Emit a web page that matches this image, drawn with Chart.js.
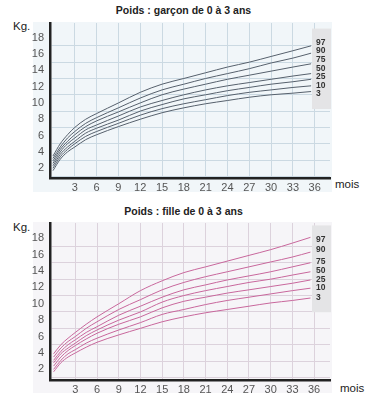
<!DOCTYPE html>
<html>
<head>
<meta charset="utf-8">
<script src="https://cdn.jsdelivr.net/npm/chart.js@4.4.1/dist/chart.umd.min.js"></script>
<style>
  body { margin: 0; background: #fff; font-family: "Liberation Sans", Arial, sans-serif; }
  .panel { position: absolute; }
  .title { position: absolute; left: 0; width: 367px; text-align: center; font-weight: bold; font-size: 10.5px; line-height: 12px; color: #222; }
  .unit { position: absolute; font-size: 11.5px; line-height: 12px; color: #222; }
  canvas { position: absolute; left: 0; }
</style>
</head>
<body>
<div class="panel" style="left:33px;top:22px;width:299px;height:170px;background:#f1f6f9"></div>
<div class="panel" style="left:33px;top:222px;width:299px;height:171px;background:#f6f5f8"></div>
<div class="title" style="top:4px">Poids : garçon de 0 à 3 ans</div>
<div class="unit" style="left:13px;top:20px">Kg.</div>
<div class="unit" style="left:335px;top:178px">mois</div>
<div class="title" style="top:205px">Poids : fille de 0 à 3 ans</div>
<div class="unit" style="left:13px;top:221px">Kg.</div>
<div class="unit" style="left:340px;top:382px">mois</div>
<canvas id="boy" width="385" height="200" style="top:0"></canvas>
<canvas id="girl" width="385" height="200" style="top:200px"></canvas>
<script>
// months on x axis
const months = [0, 1, 2, 3, 4.5, 6, 9, 12, 15, 18, 21, 24, 27, 30, 33, 35.5];
const percentiles = ['97', '90', '75', '50', '25', '10', '3'];
const xTickLabels = [3, 6, 9, 12, 15, 18, 21, 24, 27, 30, 33, 36];
const yTickLabels = [2, 4, 6, 8, 10, 12, 14, 16, 18];

// garçon (kg)
const boy97 = [3.5, 5.0, 6.1, 7.0, 8.0, 8.7, 10.0, 11.3, 12.3, 13.0, 13.7, 14.4, 15.0, 15.7, 16.4, 17.0];
const boy90 = [3.2, 4.6, 5.7, 6.5, 7.5, 8.2, 9.4, 10.6, 11.6, 12.3, 13.0, 13.6, 14.2, 14.9, 15.5, 16.1];
const boy75 = [2.9, 4.3, 5.3, 6.1, 7.1, 7.8, 8.9, 10.0, 11.0, 11.7, 12.3, 12.9, 13.4, 13.9, 14.4, 14.8];
const boy50 = [2.6, 4.0, 5.0, 5.7, 6.7, 7.3, 8.4, 9.5, 10.3, 11.0, 11.6, 12.1, 12.5, 12.9, 13.3, 13.6];
const boy25 = [2.3, 3.7, 4.6, 5.3, 6.3, 6.9, 7.9, 9.0, 9.8, 10.5, 11.0, 11.5, 11.9, 12.3, 12.6, 12.9];
const boy10 = [2.0, 3.4, 4.3, 5.0, 5.9, 6.5, 7.5, 8.5, 9.3, 9.9, 10.4, 10.9, 11.3, 11.6, 11.9, 12.1];
const boy3 = [1.7, 3.1, 4.0, 4.6, 5.5, 6.1, 7.1, 8.0, 8.8, 9.4, 9.9, 10.3, 10.7, 11.0, 11.2, 11.4];
const boyLabelKg = [17.4, 16.4, 15.3, 14.2, 13.2, 12.15, 11.1];

// fille (kg)
const girl97 = [3.9, 5.0, 5.8, 6.5, 7.5, 8.4, 10.0, 11.6, 12.8, 13.8, 14.5, 15.2, 15.9, 16.6, 17.4, 18.1];
const girl90 = [3.5, 4.6, 5.4, 6.0, 7.0, 7.8, 9.3, 10.5, 11.7, 12.6, 13.3, 13.9, 14.5, 15.1, 15.7, 16.3];
const girl75 = [3.1, 4.2, 5.0, 5.6, 6.5, 7.2, 8.6, 9.7, 10.8, 11.7, 12.3, 12.9, 13.4, 13.9, 14.5, 15.0];
const girl50 = [2.8, 3.9, 4.6, 5.2, 6.1, 6.8, 8.0, 9.0, 10.2, 11.0, 11.6, 12.1, 12.6, 13.0, 13.5, 13.9];
const girl25 = [2.4, 3.5, 4.3, 4.9, 5.7, 6.4, 7.5, 8.4, 9.5, 10.3, 10.8, 11.3, 11.7, 12.1, 12.5, 12.9];
const girl10 = [2.0, 3.1, 3.9, 4.4, 5.2, 5.8, 6.8, 7.7, 8.7, 9.3, 9.9, 10.4, 10.8, 11.2, 11.6, 11.9];
const girl3 = [1.7, 2.8, 3.5, 4.0, 4.7, 5.3, 6.2, 7.0, 7.8, 8.4, 8.9, 9.3, 9.7, 10.1, 10.4, 10.7];
const girlLabelKg = [17.85, 16.55, 15.1, 14.0, 13.0, 11.95, 10.8];

// grey box with the percentile names at the end of the curves
const sideLabels = {
  id: 'sideLabels',
  beforeDatasetsDraw(chart, args, opts) {
    const ctx = chart.ctx, area = chart.chartArea, y = chart.scales.y;
    const top = y.getPixelForValue(opts.kg[0]) - 14;
    const bot = y.getPixelForValue(opts.kg[opts.kg.length - 1]) + 15;
    ctx.save();
    ctx.fillStyle = '#e4e4e6';
    ctx.fillRect(area.right - 18, top, 19, bot - top);
    ctx.restore();
  },
  afterDatasetsDraw(chart, args, opts) {
    const ctx = chart.ctx, area = chart.chartArea, y = chart.scales.y;
    ctx.save();
    ctx.font = 'bold 8.5px "Liberation Sans", Arial, sans-serif';
    ctx.fillStyle = '#333';
    ctx.textAlign = 'left';
    ctx.textBaseline = 'middle';
    opts.names.forEach((n, i) => ctx.fillText(n, area.right - 14, y.getPixelForValue(opts.kg[i])));
    ctx.restore();
  }
};

function makeChart(id, series, lineColor, gridColor, labelKg, yMin, yMax, xMin, xMax, areaTop, areaBottom) {
  const datasets = series.map((s, i) => ({
    label: percentiles[i],
    data: s.map((v, j) => ({ x: months[j], y: v })),
    borderColor: lineColor,
    borderWidth: 1,
    pointRadius: 0,
    cubicInterpolationMode: 'monotone',
    fill: false
  }));
  return new Chart(document.getElementById(id), {
    type: 'line',
    data: { datasets: datasets },
    options: {
      responsive: false,
      animation: false,
      layout: { padding: { top: areaTop, right: 55, bottom: 0, left: 0 } },
      plugins: {
        legend: { display: false },
        tooltip: { enabled: false },
        sideLabels: { kg: labelKg, names: percentiles }
      },
      scales: {
        x: {
          type: 'linear',
          min: xMin,
          max: xMax,
          afterBuildTicks: (scale) => { scale.ticks = xTickLabels.map(v => ({ value: v })); },
          afterFit: (scale) => { scale.height = 200 - areaBottom; },
          ticks: { color: '#555', padding: 3, autoSkip: false, maxRotation: 0, font: { size: 11, family: '"Liberation Sans", Arial' } },
          grid: { color: gridColor, lineWidth: 1, drawTicks: false },
          border: { color: '#222', width: 2.5 }
        },
        y: {
          min: yMin,
          max: yMax,
          afterBuildTicks: (scale) => {
            const t = [];
            for (let v = 1; v <= 18; v++) t.push({ value: v });
            scale.ticks = t;
          },
          afterFit: (scale) => { scale.width = 50; },
          ticks: {
            color: '#555',
            padding: 6,
            autoSkip: false,
            font: { size: 11, family: '"Liberation Sans", Arial' },
            callback: (v) => yTickLabels.includes(v) ? String(v) : ''
          },
          grid: {
            color: (c) => (c.tick && c.tick.value % 2 === 1) ? gridColor : 'rgba(0,0,0,0)',
            lineWidth: 1,
            drawTicks: false
          },
          border: { color: '#222', width: 2.5 }
        }
      }
    },
    plugins: [sideLabels]
  });
}

makeChart('boy', [boy97, boy90, boy75, boy50, boy25, boy10, boy3], '#56606c', '#cbd9e2',
  boyLabelKg, 0.8, 19.8, -0.41, 38.1, 23, 178);
makeChart('girl', [girl97, girl90, girl75, girl50, girl25, girl10, girl3], '#c8679c', '#dcd2dc',
  girlLabelKg, 0.7, 19.85, -0.5, 38.2, 23, 180);
</script>
</body>
</html>
